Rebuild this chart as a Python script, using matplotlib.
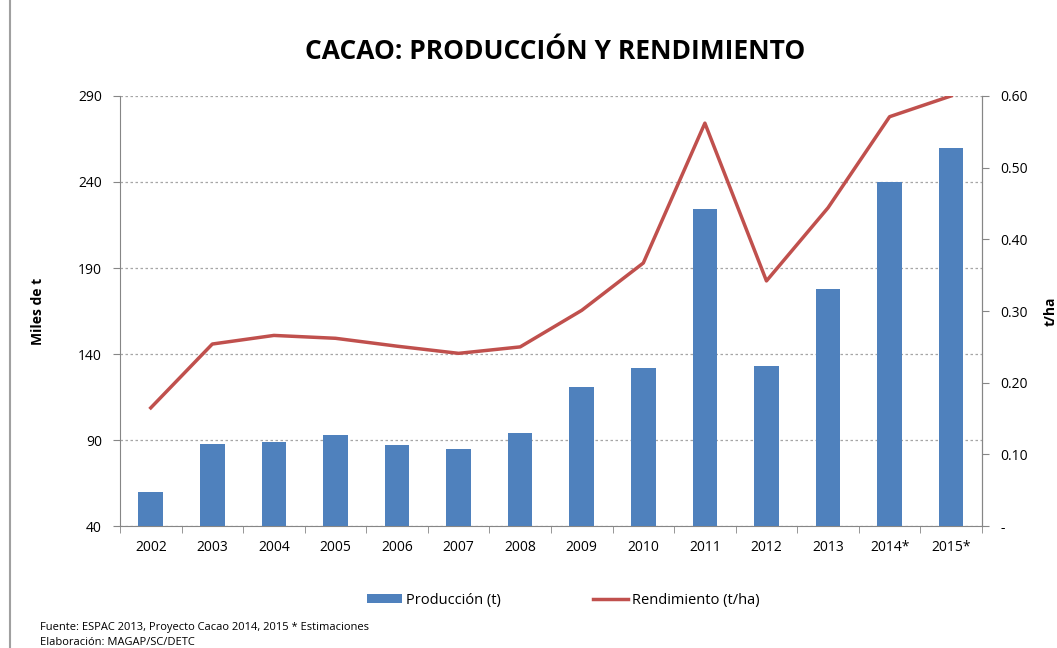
import numpy as np
import matplotlib.pyplot as plt
from matplotlib.lines import Line2D

# Cacao: produccion (miles de t) y rendimiento (t/ha)
years = ['2002', '2003', '2004', '2005', '2006', '2007', '2008',
         '2009', '2010', '2011', '2012', '2013', '2014*', '2015*']
produccion = [60, 88, 89, 93, 87, 85, 94, 121, 132, 224, 133, 178, 240, 260]
rendimiento = [0.165, 0.254, 0.266, 0.262, 0.251, 0.241, 0.250,
               0.301, 0.367, 0.562, 0.342, 0.444, 0.571, 0.600]
left_ticks = [40, 90, 140, 190, 240, 290]
right_ticks = [0, 0.1, 0.2, 0.3, 0.4, 0.5, 0.6]
right_labels = ['-', '0.10', '0.20', '0.30', '0.40', '0.50', '0.60']

plt.rcParams['font.family'] = ['Open Sans', 'DejaVu Sans']
bar_col = '#4f81bd'
line_col = '#c0504d'
axis_col = '#868686'

fig = plt.figure(figsize=(10.57, 6.48), dpi=100)
ax = fig.add_axes([0.1135, 0.188, 0.8155, 0.664])
x = np.arange(len(years))

ax.bar(x, np.array(produccion) - 40, bottom=40, width=0.4, color=bar_col,
       label='Producción (t)', zorder=3)
ax.set_xlim(-0.5, len(years) - 0.5)
ax.set_ylim(40, 290)
ax.set_yticks(left_ticks)
ax.set_yticklabels([str(v) for v in left_ticks], fontsize=10)
ax.yaxis.grid(True, linestyle=(0, (2, 2)), color='#a6a6a6', linewidth=0.9, zorder=0)
ax.set_xticks(x)
ax.set_xticklabels(years, fontsize=10)
ax.set_xticks(np.arange(-0.5, len(years)), minor=True)
ax.tick_params(axis='x', which='major', length=0, pad=10)
ax.tick_params(axis='x', which='minor', length=5, color=axis_col)
ax.tick_params(axis='y', length=5, color=axis_col, pad=8)
ax.set_ylabel('Miles de t', fontsize=10, fontweight='bold')
ax.yaxis.set_label_coords(-0.087, 0.5)
ax.spines['top'].set_visible(False)
for s in ['left', 'bottom', 'right']:
    ax.spines[s].set_color(axis_col)

ax2 = ax.twinx()
ax2.plot(x, rendimiento, color=line_col, linewidth=2.5, label='Rendimiento (t/ha)', zorder=4)
ax2.set_ylim(0, 0.6)
ax2.set_yticks(right_ticks)
ax2.set_yticklabels(right_labels, fontsize=10)
ax2.tick_params(axis='y', length=5, color=axis_col, pad=8)
ax2.set_ylabel('t/ha', fontsize=10, fontweight='bold')
ax2.yaxis.set_label_coords(1.072, 0.5)
ax2.spines['top'].set_visible(False)
ax2.spines['right'].set_color(axis_col)
ax2.spines['left'].set_visible(False)
ax2.spines['bottom'].set_visible(False)

fig.text(0.525, 0.92, 'CACAO: PRODUCCIÓN Y RENDIMIENTO', ha='center', va='center',
         fontsize=19, fontweight='bold')

h1, l1 = ax.get_legend_handles_labels()
h2, l2 = ax2.get_legend_handles_labels()
fig.legend(h1 + h2, l1 + l2, loc='center', bbox_to_anchor=(0.533, 0.074), ncol=2,
           frameon=False, fontsize=10.5, columnspacing=6.3, handlelength=2.4,
           handletextpad=0.3, handleheight=0.6)

fig.text(0.038, 0.031, 'Fuente: ESPAC 2013, Proyecto Cacao 2014, 2015 * Estimaciones',
         fontsize=8, va='center')
fig.text(0.038, 0.009, 'Elaboración: MAGAP/SC/DETC', fontsize=8, va='center')

fig.add_artist(Line2D([0.0095, 0.0095], [0, 1], color='#a0a0a0', linewidth=1.5))

fig.savefig('out.png', dpi=100)
